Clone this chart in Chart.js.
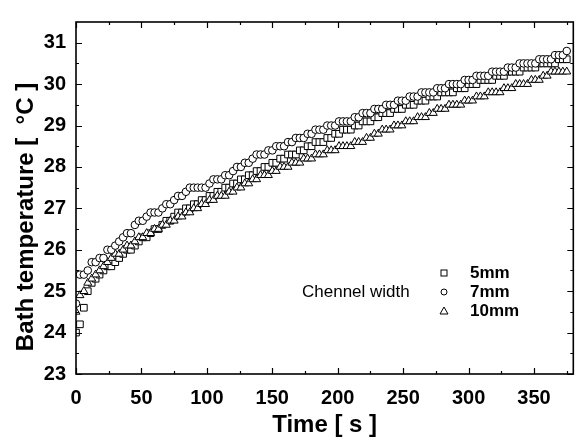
<!DOCTYPE html>
<html>
<head>
<meta charset="utf-8">
<script src="https://cdn.jsdelivr.net/npm/chart.js@4"></script>
<style>
  html, body { margin: 0; padding: 0; background: #fff; }
  #chart { display: block; }
</style>
</head>
<body>
<canvas id="chart" width="579" height="440"></canvas>
<script>
// Zaman (s)
const times = [
    0, 3, 6, 9, 12, 15, 18, 21, 24, 27,
    30, 33, 36, 39, 42, 45, 48, 51, 54, 57,
    60, 63, 66, 69, 72, 75, 78, 81, 84, 87,
    90, 93, 96, 99, 102, 105, 108, 111, 114, 117,
    120, 123, 126, 129, 132, 135, 138, 141, 144, 147,
    150, 153, 156, 159, 162, 165, 168, 171, 174, 177,
    180, 183, 186, 189, 192, 195, 198, 201, 204, 207,
    210, 213, 216, 219, 222, 225, 228, 231, 234, 237,
    240, 243, 246, 249, 252, 255, 258, 261, 264, 267,
    270, 273, 276, 279, 282, 285, 288, 291, 294, 297,
    300, 303, 306, 309, 312, 315, 318, 321, 324, 327,
    330, 333, 336, 339, 342, 345, 348, 351, 354, 357,
    360, 363, 366, 369, 372, 375
];

// Banyo sıcaklığı - 5mm (kare)
const temp5mm = [
    24.0, 24.2, 24.6, 25.0, 25.2, 25.3, 25.4, 25.5, 25.6, 25.6,
    25.7, 25.8, 25.9, 26.0, 26.0, 26.1, 26.2, 26.3, 26.3, 26.4,
    26.5, 26.5, 26.6, 26.7, 26.7, 26.8, 26.9, 26.9, 27.0, 27.0,
    27.1, 27.1, 27.2, 27.2, 27.3, 27.3, 27.4, 27.4, 27.5, 27.5,
    27.6, 27.6, 27.7, 27.7, 27.8, 27.8, 27.9, 27.9, 28.0, 28.0,
    28.1, 28.1, 28.2, 28.2, 28.3, 28.3, 28.3, 28.4, 28.4, 28.5,
    28.5, 28.6, 28.6, 28.6, 28.7, 28.7, 28.8, 28.8, 28.9, 28.9,
    28.9, 29.0, 29.0, 29.1, 29.1, 29.1, 29.2, 29.2, 29.3, 29.3,
    29.3, 29.4, 29.4, 29.4, 29.5, 29.5, 29.5, 29.6, 29.6, 29.6,
    29.7, 29.7, 29.7, 29.8, 29.8, 29.8, 29.8, 29.9, 29.9, 29.9,
    30.0, 30.0, 30.0, 30.1, 30.1, 30.1, 30.1, 30.2, 30.2, 30.2,
    30.3, 30.3, 30.3, 30.3, 30.4, 30.4, 30.4, 30.4, 30.5, 30.5,
    30.5, 30.5, 30.5, 30.6, 30.6, 30.6
];

// Banyo sıcaklığı - 7mm (daire)
const temp7mm = [
    24.7, 25.4, 25.4, 25.5, 25.7, 25.7, 25.8, 25.8, 26.0, 26.0,
    26.1, 26.2, 26.3, 26.4, 26.4, 26.6, 26.7, 26.7, 26.8, 26.9,
    26.9, 26.9, 27.0, 27.1, 27.1, 27.2, 27.3, 27.3, 27.4, 27.5,
    27.5, 27.5, 27.5, 27.5, 27.6, 27.7, 27.7, 27.7, 27.8, 27.8,
    27.9, 28.0, 28.0, 28.1, 28.1, 28.2, 28.3, 28.3, 28.3, 28.4,
    28.4, 28.5, 28.5, 28.5, 28.6, 28.6, 28.7, 28.7, 28.7, 28.8,
    28.8, 28.9, 28.9, 28.9, 29.0, 29.0, 29.0, 29.1, 29.1, 29.1,
    29.1, 29.2, 29.2, 29.3, 29.3, 29.3, 29.4, 29.4, 29.4, 29.5,
    29.5, 29.5, 29.6, 29.6, 29.6, 29.7, 29.7, 29.7, 29.8, 29.8,
    29.8, 29.8, 29.9, 29.9, 29.9, 30.0, 30.0, 30.0, 30.0, 30.1,
    30.1, 30.1, 30.2, 30.2, 30.2, 30.2, 30.3, 30.3, 30.3, 30.3,
    30.4, 30.4, 30.4, 30.5, 30.5, 30.5, 30.5, 30.5, 30.6, 30.6,
    30.6, 30.6, 30.7, 30.7, 30.7, 30.8
];

// Banyo sıcaklığı - 10mm (üçgen)
const temp10mm = [
    24.5, 24.9, 25.0, 25.2, 25.3, 25.4, 25.5, 25.6, 25.7, 25.8,
    25.9, 25.9, 26.0, 26.1, 26.1, 26.2, 26.3, 26.3, 26.4, 26.4,
    26.5, 26.5, 26.6, 26.6, 26.7, 26.7, 26.8, 26.8, 26.9, 26.9,
    27.0, 27.0, 27.1, 27.1, 27.2, 27.2, 27.3, 27.3, 27.3, 27.4,
    27.4, 27.5, 27.5, 27.6, 27.6, 27.7, 27.7, 27.8, 27.8, 27.8,
    27.9, 27.9, 28.0, 28.0, 28.0, 28.1, 28.1, 28.1, 28.2, 28.2,
    28.2, 28.3, 28.3, 28.3, 28.4, 28.4, 28.4, 28.5, 28.5, 28.5,
    28.5, 28.6, 28.6, 28.6, 28.7, 28.7, 28.8, 28.8, 28.9, 28.9,
    28.9, 29.0, 29.0, 29.0, 29.1, 29.1, 29.1, 29.2, 29.2, 29.2,
    29.3, 29.3, 29.4, 29.4, 29.4, 29.5, 29.5, 29.5, 29.5, 29.6,
    29.6, 29.6, 29.7, 29.7, 29.7, 29.8, 29.8, 29.8, 29.8, 29.9,
    29.9, 29.9, 30.0, 30.0, 30.0, 30.0, 30.1, 30.1, 30.1, 30.2,
    30.2, 30.3, 30.3, 30.3, 30.3, 30.3
];

const seriesLabels = ['5mm', '7mm', '10mm'];
const legendTitle = 'Chennel width';
const yTitle = 'Bath temperature [  °C ]';

// Eksen işaretleri
const xMajorTicks = [0, 50, 100, 150, 200, 250, 300, 350];
const xMinorTicks = [25, 75, 125, 175, 225, 275, 325, 375];
const yMajorTicks = [23, 24, 25, 26, 27, 28, 29, 30, 31];
const yMinorTicks = [23.5, 24.5, 25.5, 26.5, 27.5, 28.5, 29.5, 30.5];

const FONT = '"Liberation Sans", Arial, sans-serif';

function toPoints(values) {
    return times.map((t, i) => ({ x: t, y: values[i] }));
}

// Çerçeve ve içe dönük tick çizgileri
const frameTicks = {
    id: 'frameTicks',
    afterDatasetsDraw(chart) {
        const { ctx, chartArea: a, scales: { x, y } } = chart;
        ctx.save();
        ctx.strokeStyle = '#000';
        ctx.lineWidth = 1.2;
        ctx.beginPath();
        const tickX = (v, len) => {
            const px = Math.round(x.getPixelForValue(v)) + 0.5;
            ctx.moveTo(px, a.bottom); ctx.lineTo(px, a.bottom - len);
            ctx.moveTo(px, a.top); ctx.lineTo(px, a.top + len);
        };
        const tickY = (v, len) => {
            const py = Math.round(y.getPixelForValue(v)) + 0.5;
            ctx.moveTo(a.left, py); ctx.lineTo(a.left + len, py);
            ctx.moveTo(a.right, py); ctx.lineTo(a.right - len, py);
        };
        xMajorTicks.forEach(v => tickX(v, 6));
        xMinorTicks.forEach(v => tickX(v, 3));
        yMajorTicks.forEach(v => tickY(v, 6));
        yMinorTicks.forEach(v => tickY(v, 3));
        ctx.stroke();
        ctx.lineWidth = 1.6;
        ctx.strokeRect(a.left, a.top, a.right - a.left, a.bottom - a.top);
        ctx.restore();
    }
};

// Y ekseni başlığı ve grafik içi lejant
const innerLegend = {
    id: 'innerLegend',
    afterDraw(chart) {
        const { ctx } = chart;
        ctx.save();
        ctx.fillStyle = '#000';

        // y başlığı (biraz aşağı kaymış, orijinaldeki gibi)
        ctx.save();
        ctx.translate(33, 217);
        ctx.rotate(-Math.PI / 2);
        ctx.textAlign = 'center';
        ctx.textBaseline = 'alphabetic';
        ctx.font = 'bold 24px ' + FONT;
        ctx.fillText(yTitle, 0, 0);
        ctx.restore();

        ctx.textBaseline = 'middle';
        ctx.font = '17px ' + FONT;
        ctx.fillText(legendTitle, 302, 292);

        const ys = [273, 292, 311];
        const mx = 444;
        ctx.lineWidth = 1;
        ctx.strokeStyle = '#000';
        // kare
        ctx.strokeRect(mx - 3, ys[0] - 3, 6, 6);
        // daire
        ctx.beginPath();
        ctx.arc(mx, ys[1], 3, 0, Math.PI * 2);
        ctx.stroke();
        // üçgen
        ctx.beginPath();
        ctx.moveTo(mx, ys[2] - 4);
        ctx.lineTo(mx + 4, ys[2] + 3);
        ctx.lineTo(mx - 4, ys[2] + 3);
        ctx.closePath();
        ctx.stroke();

        ctx.font = 'bold 17px ' + FONT;
        seriesLabels.forEach((lbl, i) => ctx.fillText(lbl, 470, ys[i]));
        ctx.restore();
    }
};

const commonPoint = {
    backgroundColor: '#fff',
    borderColor: '#000',
    borderWidth: 1,
    showLine: false
};

const ctx = document.getElementById('chart').getContext('2d');
new Chart(ctx, {
    type: 'scatter',
    data: {
        datasets: [
            Object.assign({ label: seriesLabels[0], data: toPoints(temp5mm), pointStyle: 'rect', pointRadius: 4.7, order: 3 }, commonPoint),
            Object.assign({ label: seriesLabels[1], data: toPoints(temp7mm), pointStyle: 'circle', pointRadius: 3.8, order: 1 }, commonPoint),
            Object.assign({ label: seriesLabels[2], data: toPoints(temp10mm), pointStyle: 'triangle', pointRadius: 4.6, order: 2 }, commonPoint)
        ]
    },
    options: {
        responsive: false,
        animation: false,
        events: [],
        layout: { padding: { top: 9, right: 2, left: 0, bottom: 0 } },
        plugins: {
            legend: { display: false },
            tooltip: { enabled: false }
        },
        scales: {
            x: {
                type: 'linear',
                min: 0,
                max: 380,
                afterBuildTicks: s => { s.ticks = xMajorTicks.map(v => ({ value: v })); },
                afterFit: s => { s.height = 66; },
                grid: { display: false, drawTicks: false },
                border: { display: false },
                ticks: {
                    color: '#000',
                    padding: 12,
                    maxRotation: 0,
                    font: { family: FONT, size: 20, weight: 'bold' }
                },
                title: {
                    display: true,
                    text: 'Time [ s ]',
                    color: '#000',
                    padding: { top: 0, bottom: 0 },
                    font: { family: FONT, size: 24, weight: 'bold' }
                }
            },
            y: {
                type: 'linear',
                min: 23,
                max: 31.5,
                afterBuildTicks: s => { s.ticks = yMajorTicks.map(v => ({ value: v })); },
                afterFit: s => { s.width = 76; },
                grid: { display: false, drawTicks: false },
                border: { display: false },
                ticks: {
                    color: '#000',
                    padding: 10,
                    font: { family: FONT, size: 20, weight: 'bold' }
                },
                title: { display: false }
            }
        }
    },
    plugins: [frameTicks, innerLegend]
});
</script>
</body>
</html>
